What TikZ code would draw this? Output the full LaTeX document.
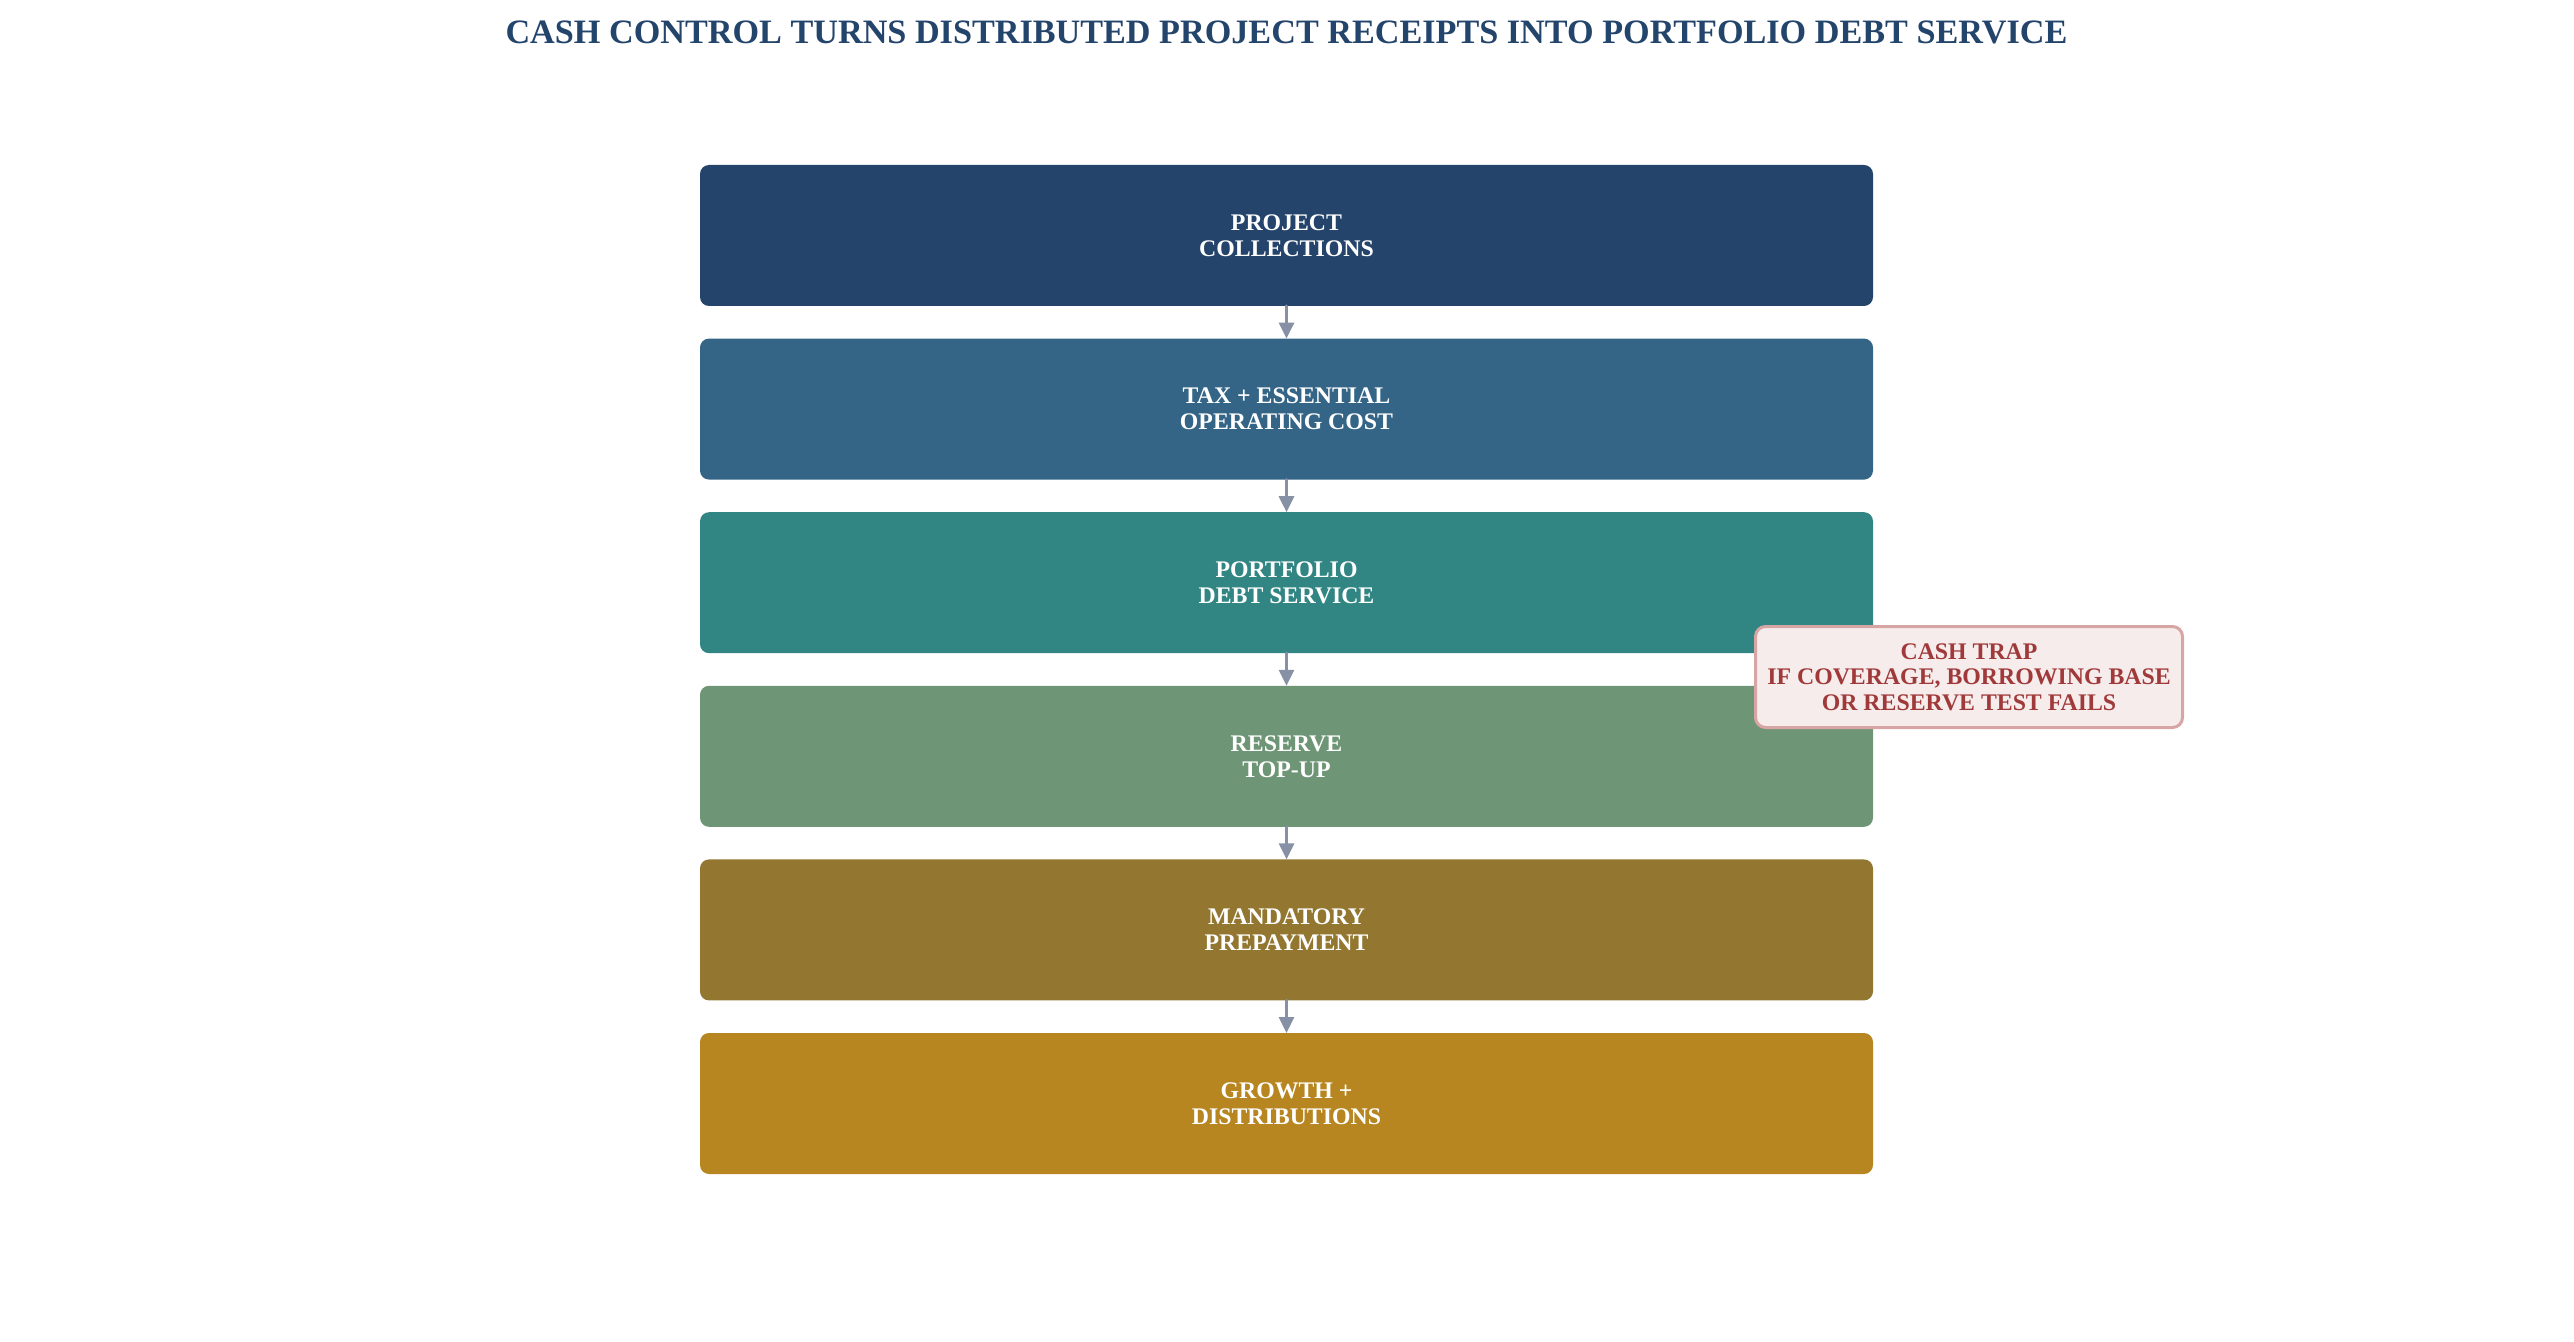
\documentclass[tikz,border=0pt]{standalone}
\usepackage{fontspec}
\setmainfont{Liberation Serif}
\usetikzlibrary{positioning}
\usetikzlibrary{arrows.meta}
\definecolor{titleblue}{HTML}{23446B}
\definecolor{stageA}{HTML}{24446B}
\definecolor{stageB}{HTML}{346587}
\definecolor{stageC}{HTML}{318684}
\definecolor{stageD}{HTML}{6F9577}
\definecolor{stageE}{HTML}{937731}
\definecolor{stageF}{HTML}{B78620}
\definecolor{arrowgrey}{HTML}{8791A5}
\definecolor{trapfill}{HTML}{F7ECEC}
\definecolor{trapedge}{HTML}{D8A5A5}
\definecolor{traptext}{HTML}{A03A3A}

\begin{document}
\begin{tikzpicture}[
x=0.5pt,y=-0.5pt,
stage/.style={
	% The shape:
	rectangle,rounded corners=4.5pt,outer sep=0pt,
	% The size:
	minimum width=586.5pt,minimum height=70.5pt,
	% The text:
	text=white,align=center,
	font=\fontsize{11.9}{13}\selectfont\bfseries},
trap/.style={
	% The shape:
	rectangle,rounded corners=5pt,
	% The size:
	minimum width=213.5pt,minimum height=50.5pt,inner sep=2pt,
	% The border and filling:
	line width=1.5pt,draw=trapedge,fill=trapfill,
	% The text:
	text=traptext,align=center,
	font=\fontsize{11.9}{12.8}\selectfont\bfseries},
flow/.style={-{Triangle[length=8pt,width=7.5pt]},line width=1.5pt,line cap=round,arrowgrey},
node distance=16.3pt,
]
\useasboundingbox (0,0) rectangle (2574,1342);

\node (title) [anchor=base,text=titleblue,font=\fontsize{17.1}{20}\selectfont\bfseries] at (1286.5,44) {CASH CONTROL TURNS DISTRIBUTED PROJECT RECEIPTS INTO PORTFOLIO DEBT SERVICE};

\node (collect) [stage,fill=stageA] at (1286.5,235.5) {PROJECT\\COLLECTIONS};
\node (opcost) [stage,fill=stageB,below=of collect] {TAX + ESSENTIAL\\OPERATING COST};
\node (debtsvc) [stage,fill=stageC,below=of opcost] {PORTFOLIO\\DEBT SERVICE};
\node (reserve) [stage,fill=stageD,below=of debtsvc] {RESERVE\\TOP-UP};
\node (prepay) [stage,fill=stageE,below=of reserve] {MANDATORY\\PREPAYMENT};
\node (growth) [stage,fill=stageF,below=of prepay] {GROWTH +\\DISTRIBUTIONS};

\draw[flow] (collect) -- (opcost);
\draw[flow] (opcost) -- (debtsvc);
\draw[flow] (debtsvc) -- (reserve);
\draw[flow] (reserve) -- (prepay);
\draw[flow] (prepay) -- (growth);

\node (cashtrap) [trap] at (1969,677) {CASH TRAP\\IF COVERAGE, BORROWING BASE\\OR RESERVE TEST FAILS};
\end{tikzpicture}
\end{document}
